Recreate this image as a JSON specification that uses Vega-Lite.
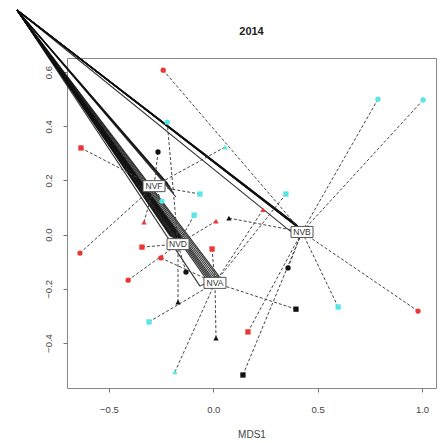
{
  "$schema": "https://vega.github.io/schema/vega-lite/v6.json",
  "width": 369,
  "height": 330,
  "autosize": "none",
  "padding": {"left": 67, "top": 58, "right": 10, "bottom": 55},
  "title": {"text": "2014", "fontSize": 11, "fontWeight": "bold", "font": "Liberation Sans", "color": "#222", "offset": -28, "frame": "group"},
  "config": {
    "view": {"stroke": "#888", "strokeWidth": 1},
    "axis": {"grid": false, "domain": false, "tickColor": "#777", "tickSize": 4, "labelFont": "Liberation Sans", "titleFont": "Liberation Sans", "labelColor": "#444", "titleColor": "#444", "labelFontSize": 9.5, "titleFontSize": 10, "titleFontWeight": "normal"}
  },
  "datasets": {
    "pts": [
      {"x": -0.240, "y": 0.607, "grp": "NVB", "col": "red", "shp": "circle"},
      {"x": -0.221, "y": 0.415, "grp": "NVD", "col": "cyan", "shp": "circle"},
      {"x": 0.056, "y": 0.323, "grp": "NVF", "col": "cyan", "shp": "triangle"},
      {"x": 0.789, "y": 0.500, "grp": "NVB", "col": "cyan", "shp": "circle"},
      {"x": 1.005, "y": 0.497, "grp": "NVB", "col": "cyan", "shp": "circle"},
      {"x": -0.634, "y": 0.320, "grp": "NVF", "col": "red", "shp": "square"},
      {"x": -0.265, "y": 0.305, "grp": "NVF", "col": "black", "shp": "circle"},
      {"x": -0.064, "y": 0.150, "grp": "NVF", "col": "cyan", "shp": "square"},
      {"x": -0.246, "y": 0.124, "grp": "NVF", "col": "cyan", "shp": "circle"},
      {"x": -0.092, "y": 0.072, "grp": "NVD", "col": "cyan", "shp": "square"},
      {"x": -0.332, "y": 0.046, "grp": "NVF", "col": "red", "shp": "triangle"},
      {"x": 0.013, "y": 0.050, "grp": "NVD", "col": "red", "shp": "triangle"},
      {"x": 0.075, "y": 0.061, "grp": "NVB", "col": "black", "shp": "triangle"},
      {"x": 0.238, "y": 0.092, "grp": "NVA", "col": "red", "shp": "triangle"},
      {"x": 0.348, "y": 0.150, "grp": "NVA", "col": "cyan", "shp": "square"},
      {"x": -0.639, "y": -0.068, "grp": "NVF", "col": "red", "shp": "circle"},
      {"x": -0.342, "y": -0.046, "grp": "NVD", "col": "red", "shp": "square"},
      {"x": -0.006, "y": -0.053, "grp": "NVA", "col": "red", "shp": "square"},
      {"x": -0.251, "y": -0.086, "grp": "NVA", "col": "red", "shp": "circle"},
      {"x": -0.408, "y": -0.168, "grp": "NVD", "col": "red", "shp": "circle"},
      {"x": -0.131, "y": -0.138, "grp": "NVD", "col": "black", "shp": "circle"},
      {"x": 0.358, "y": -0.123, "grp": "NVB", "col": "black", "shp": "circle"},
      {"x": 0.396, "y": -0.275, "grp": "NVA", "col": "black", "shp": "boxx"},
      {"x": 0.598, "y": -0.267, "grp": "NVB", "col": "cyan", "shp": "square"},
      {"x": 0.981, "y": -0.282, "grp": "NVB", "col": "red", "shp": "circle"},
      {"x": -0.169, "y": -0.249, "grp": "NVD", "col": "black", "shp": "triangle"},
      {"x": -0.308, "y": -0.322, "grp": "NVA", "col": "cyan", "shp": "square"},
      {"x": 0.013, "y": -0.382, "grp": "NVA", "col": "black", "shp": "triangle"},
      {"x": 0.166, "y": -0.359, "grp": "NVB", "col": "red", "shp": "square"},
      {"x": -0.184, "y": -0.507, "grp": "NVA", "col": "cyan", "shp": "triangle"},
      {"x": 0.142, "y": -0.518, "grp": "NVB", "col": "black", "shp": "boxx"}
    ],
    "cent": [
      {"grp": "NVF", "cx": -0.284, "cy": 0.179},
      {"grp": "NVD", "cx": -0.169, "cy": -0.035},
      {"grp": "NVA", "cx": 0.008, "cy": -0.178},
      {"grp": "NVB", "cx": 0.425, "cy": 0.010}
    ],
    "band": [
      {"x": -0.941, "y": 0.829, "ex": -0.217, "ey": 0.187},
      {"x": -0.941, "y": 0.829, "ex": -0.207, "ey": 0.176},
      {"x": -0.941, "y": 0.829, "ex": -0.198, "ey": 0.165},
      {"x": -0.941, "y": 0.829, "ex": -0.189, "ey": 0.152},
      {"x": -0.941, "y": 0.829, "ex": -0.179, "ey": 0.139},
      {"x": -0.941, "y": 0.829, "ex": -0.207, "ey": -0.005},
      {"x": -0.941, "y": 0.829, "ex": -0.201, "ey": -0.008},
      {"x": -0.941, "y": 0.829, "ex": -0.196, "ey": -0.010},
      {"x": -0.941, "y": 0.829, "ex": -0.190, "ey": -0.013},
      {"x": -0.941, "y": 0.829, "ex": -0.184, "ey": -0.016},
      {"x": -0.941, "y": 0.829, "ex": -0.178, "ey": -0.018},
      {"x": -0.941, "y": 0.829, "ex": -0.172, "ey": -0.020},
      {"x": -0.941, "y": 0.829, "ex": -0.166, "ey": -0.022},
      {"x": -0.941, "y": 0.829, "ex": -0.160, "ey": -0.024},
      {"x": -0.941, "y": 0.829, "ex": -0.152, "ey": -0.027},
      {"x": -0.941, "y": 0.829, "ex": -0.145, "ey": -0.030},
      {"x": -0.941, "y": 0.829, "ex": -0.138, "ey": -0.032},
      {"x": -0.941, "y": 0.829, "ex": -0.131, "ey": -0.035},
      {"x": -0.941, "y": 0.829, "ex": -0.064, "ey": -0.190},
      {"x": -0.941, "y": 0.829, "ex": -0.030, "ey": -0.168},
      {"x": -0.941, "y": 0.829, "ex": -0.022, "ey": -0.167},
      {"x": -0.941, "y": 0.829, "ex": -0.015, "ey": -0.166},
      {"x": -0.941, "y": 0.829, "ex": -0.008, "ey": -0.165},
      {"x": -0.941, "y": 0.829, "ex": -0.001, "ey": -0.164},
      {"x": -0.941, "y": 0.829, "ex": 0.006, "ey": -0.161},
      {"x": -0.941, "y": 0.829, "ex": 0.013, "ey": -0.158},
      {"x": -0.941, "y": 0.829, "ex": 0.020, "ey": -0.155},
      {"x": -0.941, "y": 0.829, "ex": 0.027, "ey": -0.153},
      {"x": -0.941, "y": 0.829, "ex": 0.395, "ey": 0.040},
      {"x": -0.941, "y": 0.829, "ex": 0.398, "ey": 0.037},
      {"x": -0.941, "y": 0.829, "ex": 0.401, "ey": 0.034},
      {"x": -0.941, "y": 0.829, "ex": 0.404, "ey": 0.031},
      {"x": -0.941, "y": 0.829, "ex": 0.407, "ey": 0.028},
      {"x": -0.941, "y": 0.829, "ex": 0.410, "ey": 0.025},
      {"x": -0.941, "y": 0.829, "ex": 0.413, "ey": 0.023},
      {"x": -0.941, "y": 0.829, "ex": 0.416, "ey": 0.021},
      {"x": -0.941, "y": 0.829, "ex": 0.420, "ey": 0.018},
      {"x": -0.941, "y": 0.829, "ex": 0.370, "ey": 0.012},
      {"x": 0.395, "y": 0.040, "ex": 0.420, "ey": 0.018},
      {"x": 0.420, "y": 0.018, "ex": 0.370, "ey": 0.012},
      {"x": -0.064, "y": -0.190, "ex": 0.027, "ey": -0.153}
    ]
  },
  "layer": [
    {
      "data": {"name": "band"},
      "mark": {"type": "rule", "clip": false, "color": "#111", "strokeWidth": 1.1, "opacity": 0.85},
      "encoding": {
        "x": {"field": "x", "type": "quantitative", "scale": {"domain": [-0.701, 1.067], "nice": false, "zero": false}, "title": "MDS1", "axis": {"values": [-0.5, 0, 0.5, 1], "format": ".1f", "labelPadding": 12, "titlePadding": 16}},
        "y": {"field": "y", "type": "quantitative", "scale": {"domain": [-0.566, 0.652], "nice": false, "zero": false}, "title": null, "axis": {"values": [-0.4, -0.2, 0, 0.2, 0.4, 0.6], "format": ".1f", "labelAngle": -90, "labelAlign": "center", "labelBaseline": "bottom", "labelPadding": 10}},
        "x2": {"field": "ex"},
        "y2": {"field": "ey"}
      }
    },
    {
      "data": {"name": "pts"},
      "transform": [{"lookup": "grp", "from": {"data": {"name": "cent"}, "key": "grp", "fields": ["cx", "cy"]}}],
      "mark": {"type": "rule", "color": "#444", "strokeWidth": 1, "strokeDash": [3, 2]},
      "encoding": {
        "x": {"field": "x", "type": "quantitative", "scale": {"domain": [-0.701, 1.067], "nice": false, "zero": false}, "title": "MDS1", "axis": {"values": [-0.5, 0, 0.5, 1], "format": ".1f", "labelPadding": 12, "titlePadding": 16}},
        "y": {"field": "y", "type": "quantitative", "scale": {"domain": [-0.566, 0.652], "nice": false, "zero": false}, "title": null, "axis": {"values": [-0.4, -0.2, 0, 0.2, 0.4, 0.6], "format": ".1f", "labelAngle": -90, "labelAlign": "center", "labelBaseline": "bottom", "labelPadding": 10}},
        "x2": {"field": "cx"},
        "y2": {"field": "cy"}
      }
    },
    {
      "data": {"name": "pts"},
      "mark": {"type": "point", "filled": true, "size": 28, "opacity": 1},
      "encoding": {
        "x": {"field": "x", "type": "quantitative", "scale": {"domain": [-0.701, 1.067], "nice": false, "zero": false}, "title": "MDS1", "axis": {"values": [-0.5, 0, 0.5, 1], "format": ".1f", "labelPadding": 12, "titlePadding": 16}},
        "y": {"field": "y", "type": "quantitative", "scale": {"domain": [-0.566, 0.652], "nice": false, "zero": false}, "title": null, "axis": {"values": [-0.4, -0.2, 0, 0.2, 0.4, 0.6], "format": ".1f", "labelAngle": -90, "labelAlign": "center", "labelBaseline": "bottom", "labelPadding": 10}},
        "color": {"field": "col", "type": "nominal", "scale": {"domain": ["red", "cyan", "black"], "range": ["#ee3535", "#55e6e6", "#111111"]}, "legend": null},
        "shape": {"field": "shp", "type": "nominal", "scale": {"domain": ["circle", "square", "triangle", "boxx"], "range": ["circle", "square", "triangle-up", "M-1,-1H1V1H-1Z"]}, "legend": null}
      }
    },
    {
      "data": {"name": "cent"},
      "mark": {"type": "point", "shape": "M-1,-0.5H1V0.5H-1Z", "size": 484, "filled": true, "fill": "white", "stroke": "#555", "strokeWidth": 1, "opacity": 1},
      "encoding": {
        "x": {"field": "cx", "type": "quantitative", "scale": {"domain": [-0.701, 1.067], "nice": false, "zero": false}, "title": "MDS1", "axis": {"values": [-0.5, 0, 0.5, 1], "format": ".1f", "labelPadding": 12, "titlePadding": 16}},
        "y": {"field": "cy", "type": "quantitative", "scale": {"domain": [-0.566, 0.652], "nice": false, "zero": false}, "title": null, "axis": {"values": [-0.4, -0.2, 0, 0.2, 0.4, 0.6], "format": ".1f", "labelAngle": -90, "labelAlign": "center", "labelBaseline": "bottom", "labelPadding": 10}}
      }
    },
    {
      "data": {"name": "cent"},
      "mark": {"type": "text", "font": "Liberation Sans", "fontSize": 8.5, "color": "#333", "align": "center", "baseline": "middle"},
      "encoding": {
        "x": {"field": "cx", "type": "quantitative", "scale": {"domain": [-0.701, 1.067], "nice": false, "zero": false}, "title": "MDS1", "axis": {"values": [-0.5, 0, 0.5, 1], "format": ".1f", "labelPadding": 12, "titlePadding": 16}},
        "y": {"field": "cy", "type": "quantitative", "scale": {"domain": [-0.566, 0.652], "nice": false, "zero": false}, "title": null, "axis": {"values": [-0.4, -0.2, 0, 0.2, 0.4, 0.6], "format": ".1f", "labelAngle": -90, "labelAlign": "center", "labelBaseline": "bottom", "labelPadding": 10}},
        "text": {"field": "grp"}
      }
    }
  ]
}
